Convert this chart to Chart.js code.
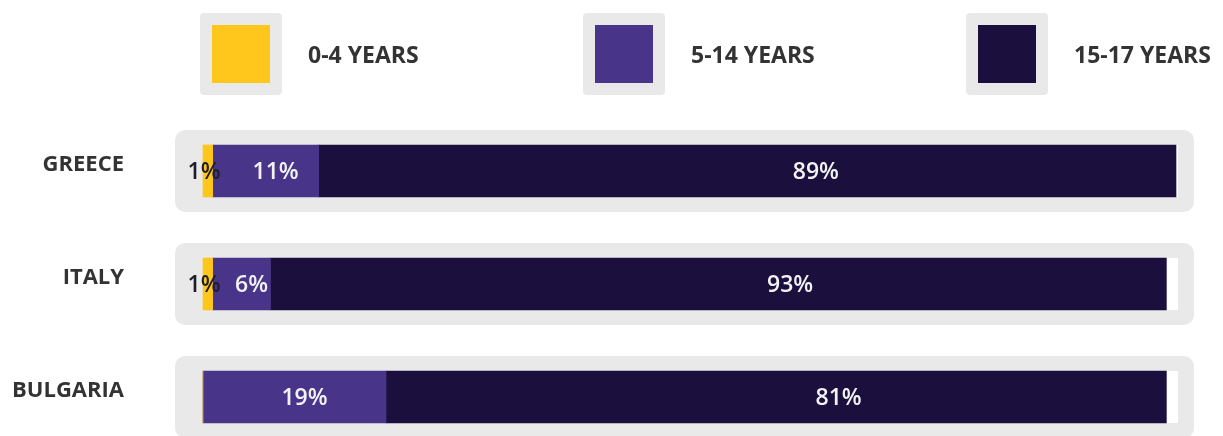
<!DOCTYPE html>
<html>
<head>
<meta charset="utf-8">
<script src="https://cdn.jsdelivr.net/npm/chart.js@4.4.1/dist/chart.umd.min.js"></script>
<style>
  html, body { margin: 0; padding: 0; background: #fff; }
  #wrap { width: 1223px; height: 436px; position: relative; }
</style>
</head>
<body>
<div id="wrap"><canvas id="ageChart"></canvas></div>
<script>
const countries = ['GREECE', 'ITALY', 'BULGARIA'];
const seriesNames = ['0-4 YEARS', '5-14 YEARS', '15-17 YEARS'];
const years0to4 = [1, 1, 0];
const years5to14 = [11, 6, 19];
const years15to17 = [89, 93, 81];
const axisMax = 101;

const colors = ['#FFC61B', '#483589', '#1B103D'];
const frameGray = '#E9E9E9';
const textDark = '#333333';
const fontFamily = '"Open Sans", "Liberation Sans", sans-serif';

// gray rounded frame behind every bar, with a white bed the bar sits in
const framePlugin = {
    id: 'frames',
    beforeDatasetsDraw(chart) {
        const ctx = chart.ctx;
        const xs = chart.scales.x;
        const ys = chart.scales.y;
        const x0 = xs.getPixelForValue(0);
        const x1 = xs.getPixelForValue(axisMax);
        countries.forEach((c, i) => {
            const y = ys.getPixelForValue(i);
            ctx.save();
            ctx.fillStyle = frameGray;
            ctx.beginPath();
            ctx.roundRect(x0 - 28, y - 41, (x1 - x0) + 46, 82, 10);
            ctx.fill();
            ctx.fillStyle = '#fff';
            ctx.fillRect(x0, y - 26, x1 - x0 + 2, 52);
            ctx.restore();
        });
    }
};

// percentage text on each segment
const valueLabelPlugin = {
    id: 'valueLabels',
    afterDatasetsDraw(chart) {
        const ctx = chart.ctx;
        ctx.save();
        ctx.font = '600 23px ' + fontFamily;
        ctx.textBaseline = 'middle';
        chart.data.datasets.forEach((ds, di) => {
            const meta = chart.getDatasetMeta(di);
            meta.data.forEach((bar, i) => {
                const v = ds.data[i];
                if (!v) return;
                const w = bar.x - bar.base;
                if (di === 0) {
                    // tiny slice: text sits over the slice's end
                    ctx.textAlign = 'right';
                    ctx.fillStyle = '#1E1E2A';
                    ctx.fillText(v + '%', bar.x + 8, bar.y + 1);
                    return;
                }
                const cx = v > 50 ? bar.base + w * 0.58 : bar.base + w / 2 + 10;
                ctx.textAlign = 'center';
                ctx.fillStyle = '#F2F2F2';
                ctx.fillText(v + '%', cx, bar.y + 1);
            });
        });
        ctx.restore();
    }
};

// legend: colour swatch in a gray frame, followed by the series name
const legendPlugin = {
    id: 'boxLegend',
    afterDraw(chart) {
        const ctx = chart.ctx;
        ctx.save();
        seriesNames.forEach((name, i) => {
            const bx = 200 + i * 383;
            const by = 13;
            ctx.fillStyle = frameGray;
            ctx.beginPath();
            ctx.roundRect(bx, by, 82, 82, 4);
            ctx.fill();
            ctx.fillStyle = colors[i];
            ctx.fillRect(bx + 12, by + 12, 58, 58);
            ctx.font = '700 23px ' + fontFamily;
            ctx.fillStyle = textDark;
            ctx.textAlign = 'left';
            ctx.textBaseline = 'middle';
            ctx.fillText(name, bx + 108, by + 43);
        });
        ctx.restore();
    }
};

const chartCtx = document.getElementById('ageChart').getContext('2d');
new Chart(chartCtx, {
    type: 'bar',
    data: {
        labels: countries,
        datasets: [years0to4, years5to14, years15to17].map((vals, i) => ({
            label: seriesNames[i],
            data: vals,
            backgroundColor: colors[i],
            borderWidth: 0,
            barThickness: 52,
            clip: false
        }))
    },
    options: {
        indexAxis: 'y',
        responsive: true,
        maintainAspectRatio: false,
        animation: false,
        layout: { autoPadding: false, padding: { top: 171, bottom: 39, left: 10, right: 47 } },
        plugins: {
            legend: { display: false },
            tooltip: { enabled: false }
        },
        scales: {
            x: {
                stacked: true,
                min: 0,
                max: axisMax,
                display: false
            },
            y: {
                stacked: true,
                offset: false,
                grid: { display: false },
                border: { display: false },
                afterFit(scale) {
                    scale.width = 193;
                    scale.paddingTop = 0;
                    scale.paddingBottom = 0;
                },
                ticks: {
                    padding: 71,
                    labelOffset: -6,
                    color: textDark,
                    font: { family: fontFamily, size: 22, weight: '700' }
                }
            }
        }
    },
    plugins: [framePlugin, valueLabelPlugin, legendPlugin]
});
</script>
</body>
</html>
